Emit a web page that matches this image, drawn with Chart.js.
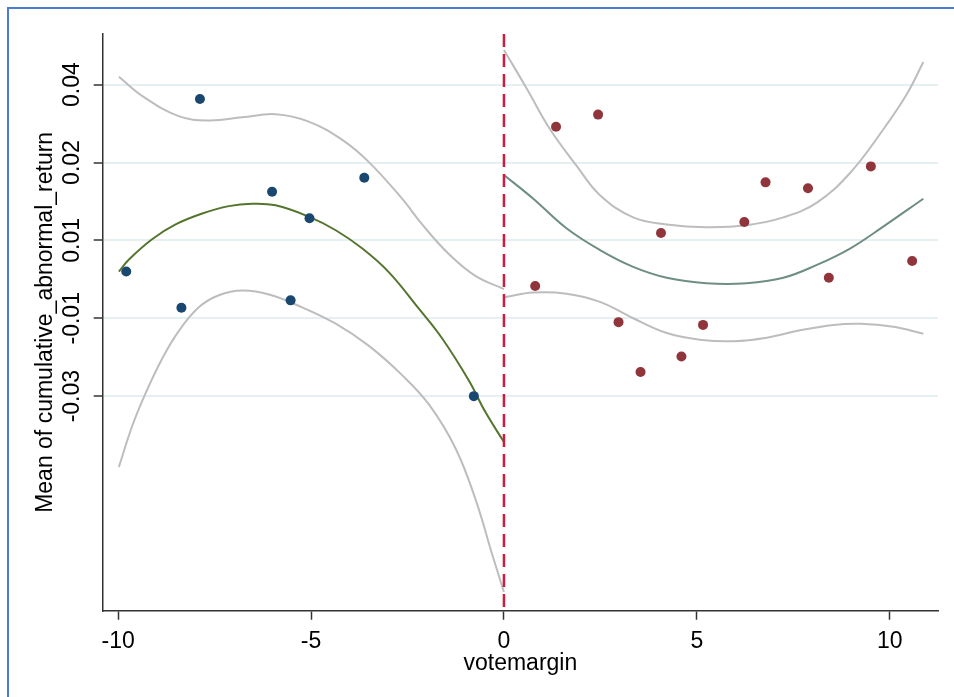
<!DOCTYPE html>
<html><head><meta charset="utf-8">
<script src="https://cdn.jsdelivr.net/npm/chart.js@4/dist/chart.umd.min.js"></script>
<style>html,body{margin:0;padding:0;background:#fff;overflow:hidden;}</style>
</head><body>
<canvas id="c" width="954" height="697"></canvas>
<script>
// ---- data ----
const leftBinX = [-9.79, -8.36, -7.88, -6.01, -5.53, -5.04, -3.62, -0.78];
const leftBinY = [-0.0080, -0.0173, 0.0363, 0.0125, -0.0154, 0.0057, 0.0161, -0.0400];

const rightBinX = [0.81, 1.35, 2.44, 2.97, 3.54, 4.07, 4.60, 5.16, 6.23, 6.78, 7.88, 8.42, 9.51, 10.58];
const rightBinY = [-0.0117, 0.0292, 0.0323, -0.0210, -0.0338, 0.0019, -0.0298, -0.0217, 0.0047, 0.0149, 0.0134, -0.0096, 0.0190, -0.0053];

const leftFitX = [-9.98, -9.72, -9.12, -8.51, -7.82, -7.13, -6.53, -5.92, -5.06, -4.36, -3.67, -2.98, -2.20, -1.60, -0.91, -0.48, 0];
const leftFitY = [-0.0080, -0.0049, 0.0003, 0.0041, 0.0069, 0.0088, 0.0094, 0.0090, 0.0061, 0.0026, -0.0021, -0.0082, -0.0176, -0.0252, -0.0360, -0.0441, -0.0518];

const leftUpX = [-9.98, -9.38, -8.43, -7.65, -6.78, -5.92, -5.06, -4.19, -3.50, -2.64, -2.12, -1.43, -0.73, 0];
const leftUpY = [0.0420, 0.0371, 0.0319, 0.0308, 0.0316, 0.0324, 0.0305, 0.0258, 0.0201, 0.0107, 0.0041, -0.0035, -0.0092, -0.0125];

const leftLoX = [-9.98, -9.64, -9.29, -8.86, -8.43, -7.91, -7.39, -6.78, -6.09, -5.23, -4.36, -3.50, -2.64, -1.94, -1.25, -0.73, -0.30, 0];
const leftLoY = [-0.0582, -0.0478, -0.0393, -0.0304, -0.0233, -0.0172, -0.0141, -0.0129, -0.0139, -0.0172, -0.0214, -0.0271, -0.0346, -0.0422, -0.0535, -0.0667, -0.0808, -0.0903];

const rightFitX = [0, 0.76, 1.62, 2.49, 3.35, 4.22, 5.25, 6.29, 7.24, 8.11, 8.97, 9.84, 10.87];
const rightFitY = [0.0168, 0.0107, 0.0031, -0.0025, -0.0068, -0.0096, -0.0110, -0.0110, -0.0096, -0.0063, -0.0021, 0.0036, 0.0107];

const rightUpX = [0, 0.59, 1.19, 1.88, 2.49, 3.35, 4.22, 5.25, 6.29, 7.24, 8.11, 8.97, 9.84, 10.44, 10.87];
const rightUpY = [0.0489, 0.0390, 0.0286, 0.0192, 0.0116, 0.0059, 0.0041, 0.0034, 0.0039, 0.0059, 0.0097, 0.0173, 0.0286, 0.0375, 0.0458];

const rightLoX = [0, 0.76, 1.62, 2.49, 3.35, 4.22, 5.08, 5.95, 6.81, 7.67, 8.54, 9.23, 10.10, 10.87];
const rightLoY = [-0.0146, -0.0134, -0.0137, -0.0158, -0.0200, -0.0238, -0.0255, -0.0259, -0.0250, -0.0231, -0.0217, -0.0214, -0.0222, -0.0240];

const cutoff = 0;
const xTicks = [-10, -5, 0, 5, 10];
const yTickValues = [0.04, 0.02, 0, -0.02, -0.04];
const yTickLabels = ['0.04', '0.02', '0.01', '-0.01', '-0.03'];
const xRange = [-10.40, 11.25];
const yRange = [-0.0951, 0.0530];

// ---- styling ----
const FONT = 'Liberation Sans, Arial, sans-serif';
const NAVY = '#1a476f', MAROON = '#90353b', GREEN = '#55752f', TEAL = '#6e8e84', CI = '#bdbdbd';

const pts = (xs, ys) => xs.map((x, i) => ({x, y: ys[i]}));
const lineDs = (xs, ys, color) => ({
  data: pts(xs, ys), showLine: true, borderColor: color, borderWidth: 2,
  pointRadius: 0, tension: 0.4, fill: false
});
const dotDs = (xs, ys, color) => ({
  data: pts(xs, ys), showLine: false, backgroundColor: color, borderColor: color,
  borderWidth: 0, pointRadius: 5, pointHoverRadius: 5
});

const extras = {
  id: 'extras',
  beforeDraw(chart) {
    const ctx = chart.ctx;
    ctx.save();
    ctx.fillStyle = '#fff';
    ctx.fillRect(0, 0, chart.width, chart.height);
    ctx.strokeStyle = '#4a7ccf';
    ctx.lineWidth = 2;
    ctx.beginPath();
    ctx.moveTo(8, chart.height + 5);
    ctx.lineTo(8, 8);
    ctx.lineTo(chart.width + 5, 8);
    ctx.stroke();
    ctx.restore();
  },
  afterDatasetsDraw(chart) {
    const ctx = chart.ctx, xs = chart.scales.x, a = chart.chartArea;
    const px = xs.getPixelForValue(cutoff);
    ctx.save();
    ctx.strokeStyle = '#cf1b3e';
    ctx.lineWidth = 2.5;
    ctx.setLineDash([13, 7]);
    ctx.beginPath();
    ctx.moveTo(px, a.top);
    ctx.lineTo(px, a.bottom);
    ctx.stroke();
    ctx.restore();
  },
  afterDraw(chart) {
    const ctx = chart.ctx, ys = chart.scales.y;
    ctx.save();
    ctx.font = '23px ' + FONT;
    ctx.fillStyle = '#000';
    ctx.textAlign = 'center';
    ctx.textBaseline = 'middle';
    yTickValues.forEach((v, i) => {
      const py = ys.getPixelForValue(v);
      ctx.save();
      ctx.translate(73, py);
      ctx.rotate(-Math.PI / 2);
      ctx.fillText(yTickLabels[i], 0, 0);
      ctx.restore();
    });
    ctx.restore();
  }
};

new Chart(document.getElementById('c'), {
  type: 'scatter',
  data: {
    datasets: [
      dotDs(leftBinX, leftBinY, NAVY),
      dotDs(rightBinX, rightBinY, MAROON),
      lineDs(leftFitX, leftFitY, GREEN),
      lineDs(rightFitX, rightFitY, TEAL),
      lineDs(leftUpX, leftUpY, CI),
      lineDs(leftLoX, leftLoY, CI),
      lineDs(rightUpX, rightUpY, CI),
      lineDs(rightLoX, rightLoY, CI)
    ]
  },
  options: {
    responsive: false,
    animation: false,
    devicePixelRatio: 1,
    layout: { padding: { left: 0, top: 34, right: 16, bottom: 0 } },
    plugins: { legend: { display: false }, tooltip: { enabled: false } },
    scales: {
      x: {
        type: 'linear', min: xRange[0], max: xRange[1],
        afterBuildTicks: s => { s.ticks = xTicks.map(v => ({value: v})); },
        afterFit: s => { s.height = 86.3; },
        grid: { drawOnChartArea: false, tickLength: 9, tickColor: '#333', tickWidth: 1.5 },
        border: { color: '#333', width: 1.5 },
        ticks: { font: { family: FONT, size: 23 }, color: '#000', padding: 8, maxRotation: 0, autoSkip: false },
        title: { display: true, text: 'votemargin', color: '#000', font: { family: FONT, size: 23 }, padding: { top: 0, bottom: 20 } }
      },
      y: {
        type: 'linear', min: yRange[0], max: yRange[1],
        afterBuildTicks: s => { s.ticks = yTickValues.map(v => ({value: v})); },
        afterFit: s => { s.width = 102.7; },
        grid: { color: '#e6eff1', lineWidth: 2, tickLength: 9, tickColor: '#333', tickWidth: 1.5 },
        border: { color: '#333', width: 1.5 },
        ticks: { display: false },
        title: { display: true, text: 'Mean of cumulative_abnormal_return', color: '#000', font: { family: FONT, size: 23 }, padding: { top: 32, bottom: 0 } }
      }
    }
  },
  plugins: [extras]
});
</script>
</body></html>
